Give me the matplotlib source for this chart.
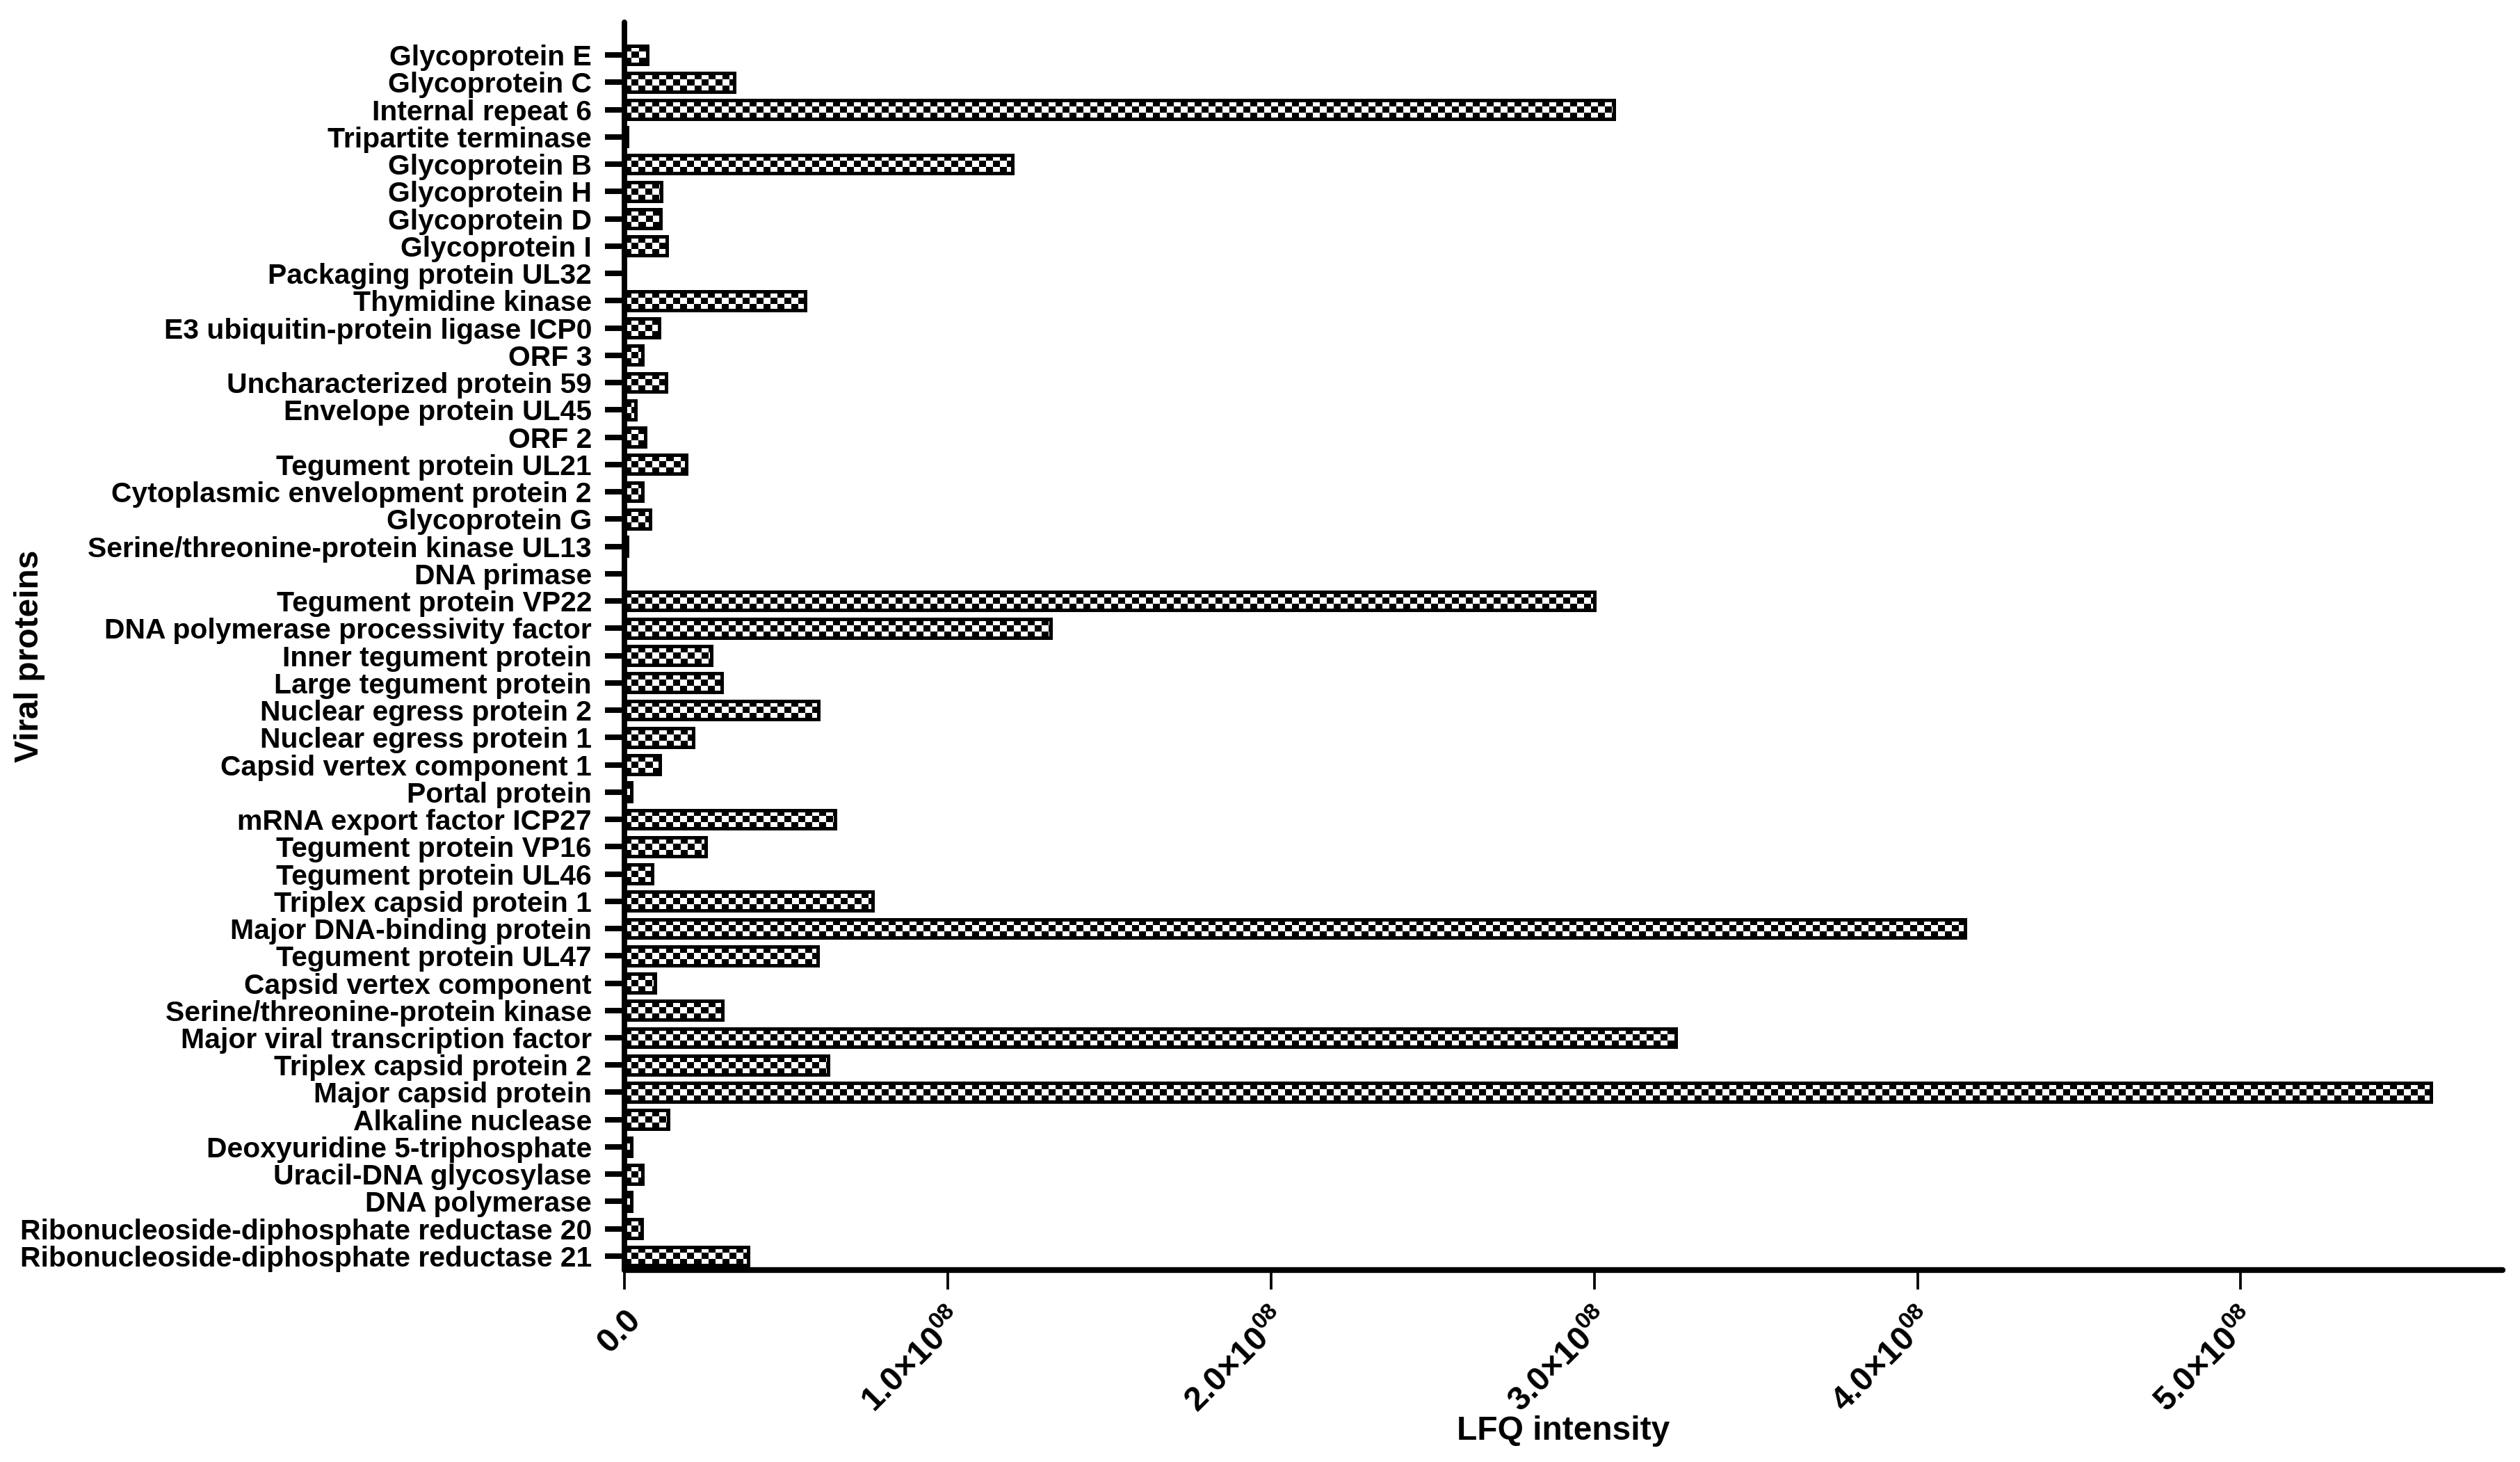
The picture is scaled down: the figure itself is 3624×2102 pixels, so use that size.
import numpy as np
import matplotlib
matplotlib.use('Agg')
import matplotlib.pyplot as plt

plt.rcParams['font.family'] = 'Liberation Sans'
plt.rcParams['font.weight'] = 'bold'
plt.rcParams['mathtext.fontset'] = 'custom'
plt.rcParams['mathtext.rm'] = 'Liberation Sans'
plt.rcParams['mathtext.bf'] = 'Liberation Sans:bold'

# proteins listed top to bottom as in the figure
proteins = [
    'Glycoprotein E', 'Glycoprotein C', 'Internal repeat 6', 'Tripartite terminase',
    'Glycoprotein B', 'Glycoprotein H', 'Glycoprotein D', 'Glycoprotein I',
    'Packaging protein UL32', 'Thymidine kinase', 'E3 ubiquitin-protein ligase ICP0',
    'ORF 3', 'Uncharacterized protein 59', 'Envelope protein UL45', 'ORF 2',
    'Tegument protein UL21', 'Cytoplasmic envelopment protein 2', 'Glycoprotein G',
    'Serine/threonine-protein kinase UL13', 'DNA primase', 'Tegument protein VP22',
    'DNA polymerase processivity factor', 'Inner tegument protein',
    'Large tegument protein', 'Nuclear egress protein 2', 'Nuclear egress protein 1',
    'Capsid vertex component 1', 'Portal protein', 'mRNA export factor ICP27',
    'Tegument protein VP16', 'Tegument protein UL46', 'Triplex capsid protein 1',
    'Major DNA-binding protein', 'Tegument protein UL47', 'Capsid vertex component',
    'Serine/threonine-protein kinase', 'Major viral transcription factor',
    'Triplex capsid protein 2', 'Major capsid protein', 'Alkaline nuclease',
    'Deoxyuridine 5-triphosphate', 'Uracil-DNA glycosylase', 'DNA polymerase',
    'Ribonucleoside-diphosphate reductase 20', 'Ribonucleoside-diphosphate reductase 21',
]
lfq = [
    7.1e6, 3.40e7, 3.06e8, 8.0e5,
    1.20e8, 1.13e7, 1.12e7, 1.31e7,
    3.0e5, 5.60e7, 1.07e7,
    5.7e6, 1.29e7, 3.4e6, 6.5e6,
    1.92e7, 5.7e6, 7.9e6,
    8.0e5, 3.0e5, 3.00e8,
    1.319e8, 2.69e7,
    3.01e7, 6.01e7, 2.13e7,
    1.10e7, 2.2e6, 6.51e7,
    2.52e7, 8.6e6, 7.68e7,
    4.147e8, 5.99e7, 9.4e6,
    3.04e7, 3.253e8,
    6.31e7, 5.588e8, 1.35e7,
    2.2e6, 5.7e6, 2.2e6,
    5.3e6, 3.83e7,
]
xticks = [0, 1e8, 2e8, 3e8, 4e8, 5e8]
xticklabels = ['0.0'] + [r'$\mathbf{%d.0}{\times}\mathbf{10}^{08}$' % k for k in range(1, 6)]

W, H, DPI = 3624, 2102, 300
fig = plt.figure(figsize=(W / DPI, H / DPI), dpi=DPI)
ax = fig.add_axes([898 / W, 1 - 1826 / H, (3599 - 898) / W, (1826 - 32) / H])

n = len(proteins)
ypos = np.arange(n)[::-1]
bar_h = 0.68
bars = ax.barh(ypos, lfq, height=bar_h, facecolor='none', edgecolor='black',
               linewidth=1.2, zorder=3)

# checkerboard fill, clipped to each bar
cell = 2.15e6
for rect, y in zip(bars.patches, ypos):
    w = rect.get_width()
    ncol = max(int(np.ceil(w / cell)), 1)
    arr = np.indices((3, ncol)).sum(axis=0) % 2
    im = ax.imshow(arr, cmap='gray', vmin=0, vmax=1, origin='lower',
                   extent=(0, ncol * cell, y - bar_h / 2, y + bar_h / 2),
                   aspect='auto', interpolation='nearest', zorder=2)
    im.set_clip_path(rect)

ax.set_xlim(0, 5.81e8)
ax.set_ylim(-0.51, n - 1 + 1.2)

ax.set_yticks(ypos)
ax.set_yticklabels(proteins, fontsize=9.8, fontweight='bold')
ax.set_xticks(xticks)
ax.set_xticklabels(xticklabels, fontsize=11.5, fontweight='bold', rotation=45,
                   ha='right', va='top', rotation_mode='anchor')

for s in ['top', 'right']:
    ax.spines[s].set_visible(False)
ax.spines['left'].set_linewidth(1.9)
ax.spines['bottom'].set_linewidth(2.0)
ax.spines['left'].set_capstyle('round')
ax.spines['bottom'].set_capstyle('round')
ax.tick_params(axis='y', length=6.7, width=1.9, pad=4.6)
ax.tick_params(axis='x', length=6.7, width=0.9, pad=5)

fig.text(43 / W, 1 - 943 / H, 'Viral proteins', rotation=90, ha='center', va='center',
         fontsize=11.5, fontweight='bold')
fig.text(2248 / W, 1 - 2057 / H, 'LFQ intensity', ha='center', va='center',
         fontsize=11.5, fontweight='bold')

fig.savefig('out.png', dpi=DPI)
